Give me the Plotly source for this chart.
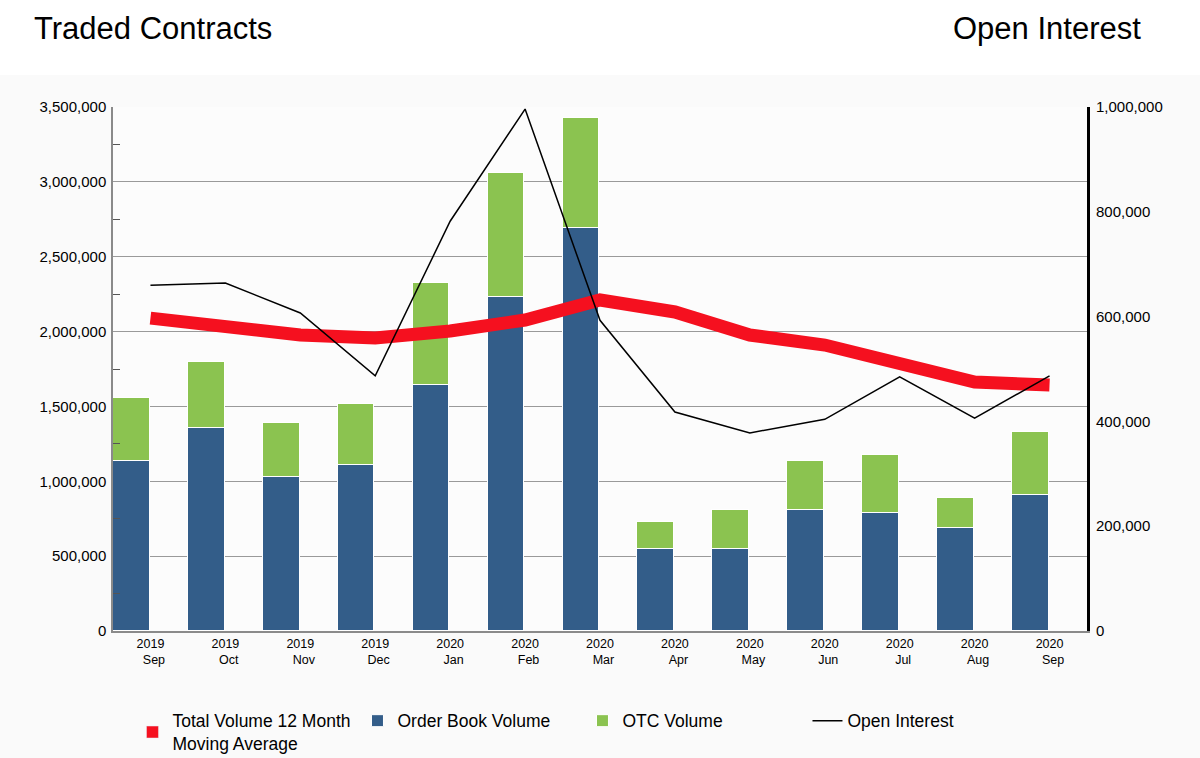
import plotly.graph_objects as go

months = ["Sep", "Oct", "Nov", "Dec", "Jan", "Feb", "Mar", "Apr", "May", "Jun", "Jul", "Aug", "Sep"]
years = ["2019", "2019", "2019", "2019", "2020", "2020", "2020", "2020", "2020", "2020", "2020", "2020", "2020"]
order_book = [1136000, 1356000, 1029000, 1109000, 1643000, 2231000, 2692000, 548000, 548000, 808000, 788000, 688000, 908000]
total_volume = [1556000, 1797000, 1389000, 1516000, 2324000, 3059000, 3426000, 728000, 808000, 1135000, 1176000, 888000, 1329000]
otc = [t - o for t, o in zip(total_volume, order_book)]
moving_avg = [2090000, 2030000, 1977000, 1957000, 2004000, 2077000, 2211000, 2131000, 1977000, 1910000, 1797000, 1663000, 1643000]
open_interest = [660000, 664000, 607000, 487000, 782000, 996000, 593000, 418000, 378000, 404000, 485000, 406000, 487000]

x = list(range(len(months)))
ticktext = [f"{y}<br>\u00a0\u00a0{m}" for y, m in zip(years, months)]

BLUE = "#335d89"
GREEN = "#8bc350"
RED = "#f5101f"

fig = go.Figure()
fig.add_trace(go.Bar(x=[None], y=[None], name="Total Volume 12 Month<br>Moving Average", marker=dict(color=RED), legendrank=1))
fig.add_trace(go.Bar(x=x, y=order_book, name="Order Book Volume", marker=dict(color=BLUE, line=dict(color="white", width=1)),
                     offset=-0.5, width=0.49, legendrank=2))
fig.add_trace(go.Bar(x=x, y=otc, name="OTC Volume", marker=dict(color=GREEN, line=dict(color="white", width=1)),
                     offset=-0.5, width=0.49, legendrank=3))
fig.add_trace(go.Scatter(x=x, y=moving_avg, mode="lines", line=dict(color=RED, width=13), showlegend=False,
                         name="Total Volume 12 Month Moving Average"))
fig.add_trace(go.Scatter(x=x, y=open_interest, mode="lines", line=dict(color="black", width=1.5), name="Open Interest",
                         yaxis="y2", legendrank=4))

fig.update_layout(
    width=1200, height=758,
    barmode="stack",
    bargap=0,
    paper_bgcolor="#fafafa",
    plot_bgcolor="#fcfcfc",
    margin=dict(l=113, r=113, t=107, b=127, autoexpand=False),
    font=dict(family="Liberation Sans, Arial, sans-serif", color="black", size=14),
    xaxis=dict(range=[-0.5, 12.5], tickvals=x, ticktext=ticktext, tickfont=dict(size=12.5),
               showgrid=False, zeroline=False, showline=True, linecolor="#8a8a8a", linewidth=2, ticks=""),
    yaxis=dict(range=[0, 3500000], dtick=500000, tickformat=",", showgrid=True, gridcolor="#9a9a9a", gridwidth=1.3,
               zeroline=False, showline=True, linecolor="#8a8a8a", linewidth=1.5, ticks="", tickfont=dict(size=15),
               ticklabelstandoff=2,
               minor=dict(dtick=250000, ticks="inside", ticklen=7, tickcolor="#555", showgrid=False)),
    yaxis2=dict(range=[0, 1000000], dtick=200000, tickformat=",", overlaying="y", side="right", showgrid=False,
                zeroline=False, showline=True, linecolor="black", linewidth=3, ticks="", tickfont=dict(size=15),
                ticklabelstandoff=3),
    legend=dict(orientation="h", x=0.02, y=-0.137, yanchor="top", xanchor="left", font=dict(size=17.5),
                entrywidth=180, entrywidthmode="pixels", bgcolor="rgba(0,0,0,0)", traceorder="normal",
                valign="middle"),
    showlegend=True,
    shapes=[dict(type="rect", xref="paper", yref="paper", x0=-0.2, x1=1.2, y0=1.061, y1=1.4,
                 fillcolor="white", line=dict(width=0), layer="below")],
    annotations=[
        dict(text="Traded Contracts", xref="paper", yref="paper", x=-0.083, y=1.149, xanchor="left", yanchor="middle",
             showarrow=False, font=dict(family="Liberation Sans, sans-serif", size=31)),
        dict(text="Open Interest", xref="paper", yref="paper", x=1.058, y=1.149, xanchor="right", yanchor="middle",
             showarrow=False, font=dict(family="Liberation Sans, sans-serif", size=31)),
    ],
)

fig.write_html("out.html", config={"displayModeBar": False},
               post_script="document.body.style.margin='0';document.body.style.background='#fafafa';")
